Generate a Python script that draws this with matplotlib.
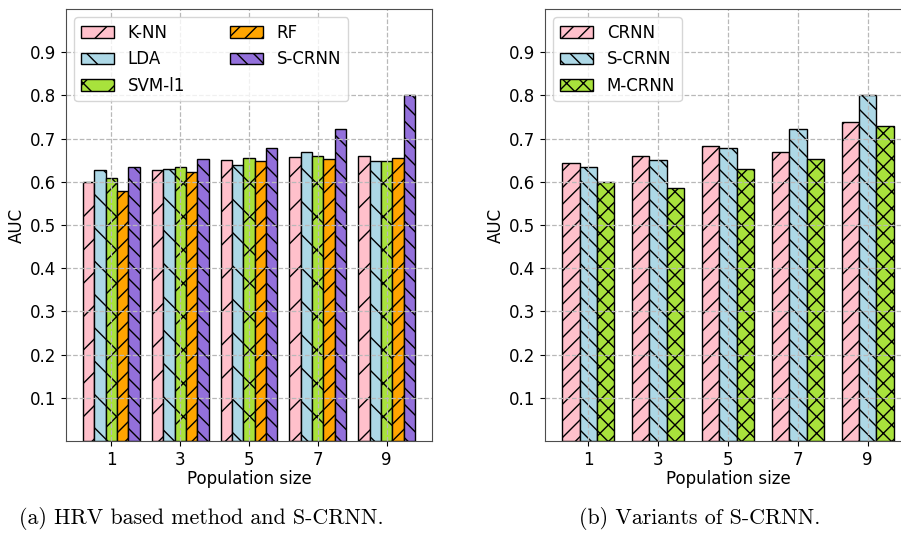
import numpy as np
import matplotlib
matplotlib.use('Agg')
import matplotlib.pyplot as plt

# population sizes on the x axis
pop_sizes = [1, 3, 5, 7, 9]

# (a) HRV based methods vs S-CRNN
k_nn = [0.600, 0.628, 0.650, 0.657, 0.659]
lda = [0.628, 0.630, 0.640, 0.669, 0.648]
svm_l1 = [0.609, 0.634, 0.656, 0.659, 0.647]
rf = [0.579, 0.622, 0.647, 0.652, 0.656]
s_crnn = [0.635, 0.652, 0.679, 0.723, 0.800]

# (b) variants of S-CRNN
crnn = [0.644, 0.660, 0.682, 0.669, 0.738]
s_crnn_b = [0.635, 0.651, 0.679, 0.722, 0.800]
m_crnn = [0.600, 0.586, 0.630, 0.652, 0.729]

y_ticks = [0.1, 0.2, 0.3, 0.4, 0.5, 0.6, 0.7, 0.8, 0.9]

PINK = '#ffc0cb'
BLUE = '#add8e6'
GREEN = '#a8e23c'
ORANGE = '#ffa500'
PURPLE = '#9370db'


def draw_bars(ax, series, labels, colors, hatches, width):
    x = np.array(pop_sizes, dtype=float)
    n = len(series)
    for i, (vals, lab, col, h) in enumerate(zip(series, labels, colors, hatches)):
        off = (i - (n - 1) / 2.0) * width
        ax.bar(x + off, vals, width, color=col, edgecolor='black',
               linewidth=1.0, hatch=h, label=lab)
    ax.set_xticks(pop_sizes)
    ax.set_yticks(y_ticks)
    ax.set_yticklabels(['%.1f' % t for t in y_ticks])
    ax.set_ylim(0, 1.0)
    ax.grid(True, linestyle='--', color='#b8b8b8', linewidth=0.9)
    ax.tick_params(labelsize=12)
    ax.set_xlabel('Population size', fontsize=12, labelpad=1)
    ax.set_ylabel('AUC', fontsize=12, labelpad=3)
    for s in ax.spines.values():
        s.set_color('0.3')


fig = plt.figure(figsize=(9.01, 5.33), dpi=100)
W, H = 901.0, 533.0

ax1 = fig.add_axes([66 / W, 1 - 441 / H, 366 / W, 432 / H])
draw_bars(ax1, [k_nn, lda, svm_l1, rf, s_crnn],
          ['K-NN', 'LDA', 'SVM-l1', 'RF', 'S-CRNN'],
          [PINK, BLUE, GREEN, ORANGE, PURPLE],
          ['/', '\\', 'x', '//', '\\\\'], 0.33)
ax1.set_xlim(-0.32, 10.32)
ax1.legend(loc='upper left', ncol=2, fontsize=12, columnspacing=2.7)

ax2 = fig.add_axes([545 / W, 1 - 441 / H, 366 / W, 432 / H])
draw_bars(ax2, [crnn, s_crnn_b, m_crnn],
          ['CRNN', 'S-CRNN', 'M-CRNN'],
          [PINK, BLUE, GREEN],
          ['//', '\\\\', 'xx'], 0.5)
ax2.set_xlim(-0.24, 10.24)
ax2.legend(loc='upper left', fontsize=12)

fig.text(201 / W, 1 - 518 / H, '(a) HRV based method and S-CRNN.',
         family='cmr10', fontsize=15.8, ha='center', va='center')
fig.text(700 / W, 1 - 518 / H, '(b) Variants of S-CRNN.',
         family='cmr10', fontsize=15.8, ha='center', va='center')

fig.savefig('out.png', dpi=100)
